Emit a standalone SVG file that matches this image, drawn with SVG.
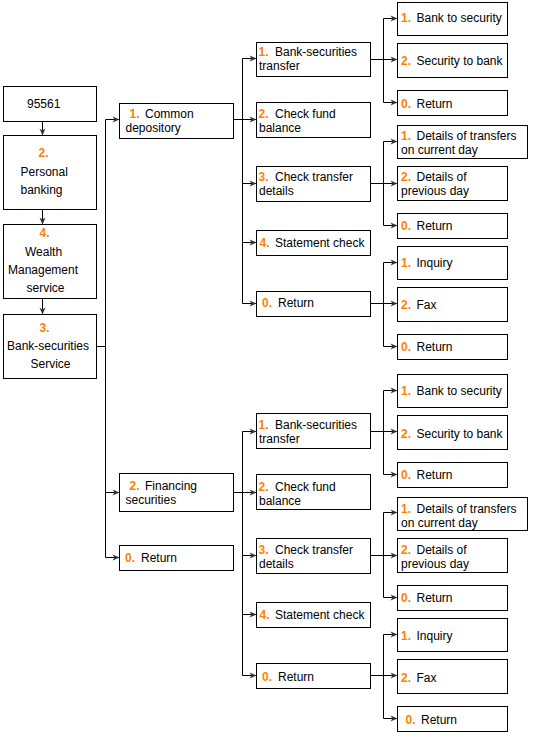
<svg xmlns="http://www.w3.org/2000/svg" width="542" height="739" viewBox="0 0 542 739">
<style>
.b{fill:#fff;stroke:#000;stroke-width:1}
text{font-family:"Liberation Sans",Arial,sans-serif;font-size:12px;fill:#000}
.n{fill:#ff7f00;font-weight:bold}
.c{fill:none;stroke:#000;stroke-width:1}
.a{fill:none;stroke:#000;stroke-width:1;marker-end:url(#ah)}
</style>
<defs>
<marker id="ah" markerUnits="userSpaceOnUse" markerWidth="8" markerHeight="7" refX="7" refY="3" orient="auto" overflow="visible">
<path d="M0,0 L7,3 L0,6 L2,3 z" fill="#333"/>
</marker>
</defs>
<rect width="542" height="739" fill="#fff"/>
<g id="connectors">
<path class="a" d="M42.5,121.5 V135.5"/>
<path class="a" d="M42.5,209.5 V224.5"/>
<path class="a" d="M42.5,298.5 V314.5"/>
<path class="c" d="M96.5,346.5 H105.5 M105.5,119.5 V557.5"/>
<path class="a" d="M105.5,119.5 H119.5"/>
<path class="a" d="M105.5,492.5 H119.5"/>
<path class="a" d="M105.5,557.5 H119.5"/>
<path class="c" d="M233.5,119.5 H242.5 M242.5,58.5 V303.5"/>
<path class="a" d="M242.5,58.5 H256.5"/>
<path class="a" d="M242.5,119.5 H256.5"/>
<path class="a" d="M242.5,183.5 H256.5"/>
<path class="a" d="M242.5,242.5 H256.5"/>
<path class="a" d="M242.5,303.5 H256.5"/>
<path class="c" d="M233.5,492.5 H242.5 M242.5,431.5 V675.5"/>
<path class="a" d="M242.5,431.5 H256.5"/>
<path class="a" d="M242.5,492.5 H256.5"/>
<path class="a" d="M242.5,555.5 H256.5"/>
<path class="a" d="M242.5,614.5 H256.5"/>
<path class="a" d="M242.5,675.5 H256.5"/>
<path class="c" d="M370.5,59.5 H383.5 M383.5,18.5 V102.5"/>
<path class="a" d="M383.5,18.5 H397.5"/>
<path class="a" d="M383.5,59.5 H397.5"/>
<path class="a" d="M383.5,102.5 H397.5"/>
<path class="c" d="M370.5,183.5 H383.5 M383.5,141.5 V225.5"/>
<path class="a" d="M383.5,141.5 H397.5"/>
<path class="a" d="M383.5,183.5 H397.5"/>
<path class="a" d="M383.5,225.5 H397.5"/>
<path class="c" d="M370.5,303.5 H383.5 M383.5,262.5 V346.5"/>
<path class="a" d="M383.5,262.5 H397.5"/>
<path class="a" d="M383.5,303.5 H397.5"/>
<path class="a" d="M383.5,346.5 H397.5"/>
<path class="c" d="M370.5,431.5 H383.5 M383.5,390.5 V474.5"/>
<path class="a" d="M383.5,390.5 H397.5"/>
<path class="a" d="M383.5,431.5 H397.5"/>
<path class="a" d="M383.5,474.5 H397.5"/>
<path class="c" d="M370.5,555.5 H383.5 M383.5,512.5 V597.5"/>
<path class="a" d="M383.5,512.5 H397.5"/>
<path class="a" d="M383.5,555.5 H397.5"/>
<path class="a" d="M383.5,597.5 H397.5"/>
<path class="c" d="M370.5,675.5 H383.5 M383.5,634.5 V718.5"/>
<path class="a" d="M383.5,634.5 H397.5"/>
<path class="a" d="M383.5,675.5 H397.5"/>
<path class="a" d="M383.5,718.5 H397.5"/>
</g>
<g id="n95561"><rect class="b" x="3.5" y="86.5" width="93" height="35"/><text x="27" y="107.5">95561</text></g>
<g id="personal"><rect class="b" x="3.5" y="135.5" width="93" height="74"/><text class="n" x="38.5" y="157">2.</text><text x="20.5" y="176">Personal</text><text x="20.5" y="193.5">banking</text></g>
<g id="wealth"><rect class="b" x="3.5" y="224.5" width="93" height="74"/><text class="n" x="39.5" y="237">4.</text><text x="25" y="256">Wealth</text><text x="8" y="274">Management</text><text x="26.5" y="292">service</text></g>
<g id="bss"><rect class="b" x="3.5" y="314.5" width="93" height="64"/><text class="n" x="39.5" y="332">3.</text><text x="7" y="350">Bank-securities</text><text x="30.5" y="367.5">Service</text></g>

<g id="common"><rect class="b" x="119.5" y="103.5" width="114" height="35"/><text class="n" x="129.5" y="117.5">1.</text><text x="145" y="117.5">Common</text><text x="125.5" y="131.5">depository</text></g>
<g id="financing"><rect class="b" x="119.5" y="473.5" width="114" height="38"/><text class="n" x="129.5" y="490">2.</text><text x="145" y="490">Financing</text><text x="125.5" y="503.5">securities</text></g>
<g id="ret1"><rect class="b" x="119.5" y="545.5" width="114" height="25"/><text class="n" x="125" y="562">0.</text><text x="141" y="562">Return</text></g>

<g id="bst1"><rect class="b" x="256.5" y="42.5" width="114" height="34"/><text class="n" x="258.5" y="56">1.</text><text x="275" y="56">Bank-securities</text><text x="259" y="69.5">transfer</text></g>
<g id="cfb1"><rect class="b" x="256.5" y="102.5" width="114" height="35"/><text class="n" x="258.5" y="117.5">2.</text><text x="275" y="117.5">Check fund</text><text x="259" y="131.5">balance</text></g>
<g id="ctd1"><rect class="b" x="256.5" y="166.5" width="114" height="35"/><text class="n" x="258.5" y="180.7">3.</text><text x="275" y="180.7">Check transfer</text><text x="259" y="194.7">details</text></g>
<g id="sc1"><rect class="b" x="256.5" y="230.5" width="114" height="25"/><text class="n" x="259.5" y="246.7">4.</text><text x="275" y="246.7">Statement check</text></g>
<g id="r1"><rect class="b" x="256.5" y="291.5" width="114" height="25"/><text class="n" x="262" y="307.3">0.</text><text x="278" y="307.3">Return</text></g>

<g id="bst2"><rect class="b" x="256.5" y="413.5" width="114" height="35"/><text class="n" x="258.5" y="428.7">1.</text><text x="275" y="428.7">Bank-securities</text><text x="259" y="442.7">transfer</text></g>
<g id="cfb2"><rect class="b" x="256.5" y="474.5" width="114" height="35"/><text class="n" x="258.5" y="490.7">2.</text><text x="275" y="490.7">Check fund</text><text x="259" y="504.7">balance</text></g>
<g id="ctd2"><rect class="b" x="256.5" y="538.5" width="114" height="35"/><text class="n" x="258.5" y="554">3.</text><text x="275" y="554">Check transfer</text><text x="259" y="567.5">details</text></g>
<g id="sc2"><rect class="b" x="256.5" y="602.5" width="114" height="25"/><text class="n" x="259.5" y="619.3">4.</text><text x="275" y="619.3">Statement check</text></g>
<g id="r2"><rect class="b" x="256.5" y="663.5" width="114" height="25"/><text class="n" x="262" y="680.7">0.</text><text x="278" y="680.7">Return</text></g>

<g id="bts1"><rect class="b" x="397.5" y="2.5" width="110" height="33"/><text class="n" x="401" y="22">1.</text><text x="416.5" y="22">Bank to security</text></g>
<g id="stb1"><rect class="b" x="397.5" y="43.5" width="110" height="34"/><text class="n" x="401" y="65">2.</text><text x="416.5" y="65">Security to bank</text></g>
<g id="r3"><rect class="b" x="397.5" y="90.5" width="110" height="25"/><text class="n" x="401" y="107.5">0.</text><text x="416.5" y="107.5">Return</text></g>
<g id="dot1"><rect class="b" x="397.5" y="125.5" width="130" height="33"/><text class="n" x="401" y="140">1.</text><text x="416.5" y="140">Details of transfers</text><text x="401" y="154">on current day</text></g>
<g id="dop1"><rect class="b" x="397.5" y="166.5" width="110" height="34"/><text class="n" x="401" y="181">2.</text><text x="416.5" y="181">Details of</text><text x="401" y="195">previous day</text></g>
<g id="r4"><rect class="b" x="397.5" y="213.5" width="110" height="25"/><text class="n" x="401" y="230">0.</text><text x="416.5" y="230">Return</text></g>
<g id="inq1"><rect class="b" x="397.5" y="246.5" width="110" height="33"/><text class="n" x="401" y="266.7">1.</text><text x="416.5" y="266.7">Inquiry</text></g>
<g id="fax1"><rect class="b" x="397.5" y="287.5" width="110" height="34"/><text class="n" x="401" y="309.3">2.</text><text x="416.5" y="309.3">Fax</text></g>
<g id="r5"><rect class="b" x="397.5" y="334.5" width="110" height="25"/><text class="n" x="401" y="350.7">0.</text><text x="416.5" y="350.7">Return</text></g>

<g id="bts2"><rect class="b" x="397.5" y="374.5" width="110" height="33"/><text class="n" x="401" y="395">1.</text><text x="416.5" y="395">Bank to security</text></g>
<g id="stb2"><rect class="b" x="397.5" y="415.5" width="110" height="34"/><text class="n" x="401" y="438.3">2.</text><text x="416.5" y="438.3">Security to bank</text></g>
<g id="r6"><rect class="b" x="397.5" y="462.5" width="110" height="25"/><text class="n" x="401" y="479">0.</text><text x="416.5" y="479">Return</text></g>
<g id="dot2"><rect class="b" x="397.5" y="497.5" width="130" height="33"/><text class="n" x="401" y="512.7">1.</text><text x="416.5" y="512.7">Details of transfers</text><text x="401" y="526.7">on current day</text></g>
<g id="dop2"><rect class="b" x="397.5" y="538.5" width="110" height="34"/><text class="n" x="401" y="554">2.</text><text x="416.5" y="554">Details of</text><text x="401" y="567.7">previous day</text></g>
<g id="r7"><rect class="b" x="397.5" y="585.5" width="110" height="25"/><text class="n" x="401" y="601.7">0.</text><text x="416.5" y="601.7">Return</text></g>
<g id="inq2"><rect class="b" x="397.5" y="618.5" width="110" height="33"/><text class="n" x="401" y="640">1.</text><text x="416.5" y="640">Inquiry</text></g>
<g id="fax2"><rect class="b" x="397.5" y="659.5" width="110" height="34"/><text class="n" x="401" y="682">2.</text><text x="416.5" y="682">Fax</text></g>
<g id="r8"><rect class="b" x="397.5" y="706.5" width="110" height="25"/><text class="n" x="405.5" y="724">0.</text><text x="421" y="724">Return</text></g>
</svg>
